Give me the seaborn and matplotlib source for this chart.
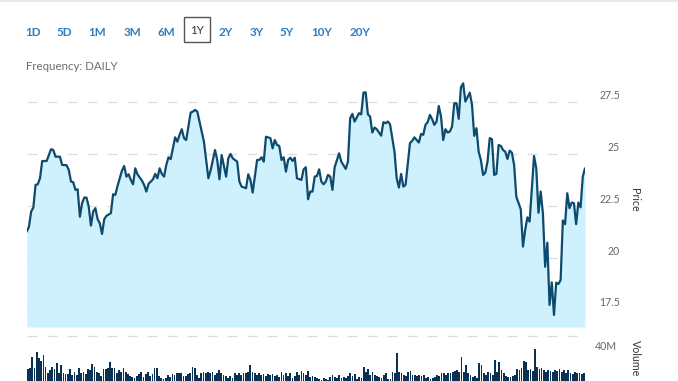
import matplotlib
matplotlib.use("Agg")
import matplotlib.pyplot as plt
import matplotlib.transforms as mtransforms
from matplotlib.patches import Rectangle
from matplotlib.lines import Line2D
import seaborn as sns

# trading day number (0 = first day of the 1Y window) and closing price
price_day = [0, 1, 2, 3, 4, 5, 6, 7, 9, 11, 12, 13, 15, 16, 18, 19, 20, 21, 22, 23,
             24, 25, 26, 27, 28, 29, 30, 31, 32, 33, 34, 35, 36, 38, 39, 40, 41, 43, 44, 45,
             46, 47, 48, 49, 50, 52, 53, 54, 55, 56, 57, 58, 59, 60, 61, 62, 63, 64, 65, 67,
             68, 69, 70, 71, 72, 74, 75, 76, 77, 78, 80, 82, 83, 85, 86, 87, 88, 89, 90, 91,
             92, 93, 95, 96, 97, 99, 100, 101, 102, 104, 105, 106, 107, 108, 110, 111, 112, 113, 114, 115,
             116, 117, 118, 119, 120, 121, 122, 124, 125, 126, 127, 128, 129, 130, 131, 132, 133, 134, 135, 136,
             137, 138, 139, 141, 142, 144, 145, 146, 147, 148, 150, 151, 152, 153, 154, 155, 156, 157, 158, 160,
             161, 162, 163, 164, 166, 167, 168, 169, 170, 171, 173, 174, 175, 176, 177, 178, 179, 180, 181, 182,
             183, 184, 185, 186, 187, 188, 189, 190, 191, 192, 193, 194, 195, 196, 197, 198, 200, 201, 202, 203,
             204, 205, 206, 207, 208, 209, 210, 211, 212, 213, 214, 215, 216, 217, 218, 219, 220, 221, 223, 224,
             225, 226, 227, 229, 230, 231, 232, 233, 234, 235, 236, 237, 238, 239, 240, 241, 242, 243, 244, 245,
             246, 247, 248, 249, 250, 251, 252]
price = [21.27, 21.50, 22.23, 22.43, 23.52, 23.55, 23.84, 24.67, 24.67, 25.24, 25.20, 24.88, 24.88, 24.48, 24.47, 24.24, 23.68, 23.65, 23.28, 23.31,
         21.99, 22.64, 22.91, 22.91, 22.47, 21.56, 22.23, 22.40, 21.87, 21.67, 21.16, 21.87, 22.03, 22.16, 23.07, 23.04, 23.47, 24.21, 24.43, 23.92,
         24.03, 23.76, 23.55, 24.32, 24.03, 23.73, 23.52, 23.20, 23.57, 23.68, 23.79, 24.05, 23.84, 24.32, 24.05, 23.92, 24.48, 24.85, 24.76, 25.81,
         25.60, 25.93, 26.20, 25.77, 25.68, 27.00, 27.05, 27.13, 27.05, 26.57, 25.60, 23.84, 24.21, 25.20, 24.72, 23.79, 24.96, 24.43, 23.92, 24.80,
         25.01, 24.80, 24.64, 23.68, 23.44, 23.36, 24.03, 23.76, 23.15, 24.72, 24.72, 24.85, 24.64, 25.84, 25.77, 25.28, 25.68, 25.44, 25.40, 24.72,
         24.85, 24.16, 24.72, 24.83, 24.67, 24.83, 23.84, 23.76, 24.27, 24.37, 22.83, 23.20, 23.20, 23.92, 23.95, 24.27, 23.68, 23.55, 23.68, 24.00,
         23.92, 23.28, 24.37, 25.04, 24.64, 24.29, 24.64, 26.73, 26.94, 26.57, 26.97, 26.92, 27.96, 27.98, 26.92, 26.81, 26.04, 26.28, 26.20, 25.89,
         26.54, 26.49, 26.57, 26.44, 25.12, 23.84, 23.39, 24.05, 23.44, 23.52, 25.53, 25.64, 25.81, 25.68, 25.56, 25.97, 25.93, 26.41, 26.54, 26.89,
         26.68, 26.41, 26.57, 27.32, 26.81, 25.68, 26.20, 26.04, 26.09, 26.33, 27.45, 27.45, 26.70, 28.22, 28.41, 27.53, 27.96, 27.37, 25.88, 26.25,
         25.12, 24.72, 24.00, 24.11, 24.64, 25.77, 25.72, 24.00, 24.05, 25.44, 25.40, 25.20, 25.12, 24.77, 25.17, 25.07, 24.48, 22.95, 22.35, 20.55,
         21.35, 21.96, 21.75, 24.91, 24.32, 22.18, 23.20, 22.15, 19.58, 20.74, 17.74, 18.83, 17.26, 18.81, 18.75, 18.94, 21.81, 21.63, 23.12, 22.40,
         22.67, 22.64, 21.63, 22.67, 22.44, 23.92, 24.32]

# daily volume, millions of shares
volume = [23.4, 24.0, 29.7, 24.0, 31.9, 28.9, 27.7, 30.5, 24.7, 21.4, 23.0, 24.7, 23.4, 26.4, 21.4, 25.5, 21.4, 21.0, 21.0, 23.4,
          20.5, 22.2, 20.5, 23.9, 21.4, 22.2, 21.0, 23.4, 23.0, 25.9, 24.7, 22.2, 21.7, 20.0, 23.4, 23.4, 23.9, 27.2, 23.9, 24.2,
          21.7, 23.0, 22.2, 24.2, 22.2, 20.9, 20.0, 19.7, 18.9, 20.0, 20.9, 22.2, 19.7, 20.9, 22.2, 20.0, 20.9, 23.9, 23.9, 20.0,
          18.9, 18.4, 18.9, 20.5, 19.7, 21.0, 20.5, 21.7, 21.7, 21.7, 20.0, 20.0, 21.0, 21.4, 24.7, 23.9, 20.5, 18.9, 21.4, 22.2,
          21.7, 22.2, 21.7, 22.2, 20.5, 21.4, 23.0, 21.7, 20.5, 20.0, 18.9, 20.0, 18.9, 21.4, 20.5, 21.4, 20.5, 21.4, 21.7, 22.2,
          25.5, 22.2, 21.7, 20.5, 21.4, 20.5, 20.9, 20.0, 20.9, 20.5, 20.9, 20.0, 20.5, 19.7, 22.2, 20.5, 21.7, 20.0, 21.4, 18.9,
          20.0, 22.2, 20.5, 22.5, 21.4, 20.5, 22.5, 19.7, 20.0, 19.4, 18.9, 18.4, 18.0, 18.9, 18.4, 18.0, 19.7, 20.5, 19.4, 18.9,
          20.5, 18.9, 19.7, 18.9, 20.0, 21.7, 20.0, 20.9, 18.4, 19.7, 18.9, 24.7, 22.2, 23.4, 20.5, 22.2, 20.5, 20.0, 19.4, 18.9,
          20.5, 21.7, 18.4, 18.4, 22.2, 21.4, 31.4, 22.2, 21.7, 20.5, 20.0, 22.2, 22.5, 20.5, 20.5, 20.0, 20.5, 20.0, 20.5, 18.9,
          19.4, 18.4, 18.9, 19.4, 20.5, 20.0, 21.4, 21.7, 20.5, 21.4, 21.4, 22.2, 22.5, 23.0, 22.2, 29.4, 22.2, 25.5, 21.7, 20.5,
          19.7, 20.0, 18.9, 26.4, 25.5, 21.4, 20.5, 22.2, 21.4, 20.5, 28.0, 22.2, 27.2, 23.0, 21.4, 20.0, 19.7, 19.4, 20.0, 20.5,
          23.4, 23.0, 23.9, 27.7, 27.2, 23.0, 23.4, 22.7, 33.5, 24.4, 23.4, 23.9, 23.0, 22.2, 23.0, 22.7, 22.2, 23.0, 22.5, 23.4,
          22.2, 23.0, 21.7, 23.0, 21.4, 21.0, 22.2, 21.7, 21.4, 21.0, 21.7]

price_ticks = [17.5, 20, 22.5, 25, 27.5]
ranges = ["1D", "5D", "1M", "3M", "6M", "1Y", "2Y", "3Y", "5Y", "10Y", "20Y"]
selected = "1Y"

LINE = "#0d4a6d"
FILL = "#cff1fd"
BAR = "#0b3152"
GRID = "#dddddd"
BLUE = "#2d7cc0"

sns.set_style("white")
plt.rcParams["font.family"] = ["Lato", "DejaVu Sans"]

W, H = 678, 381
fig = plt.figure(figsize=(W / 100, H / 100), dpi=100)


def fx(px):
    return px / W


def fy(py):
    return 1 - py / H


left, right = 26.7, 585
ax = fig.add_axes([fx(left), fy(327), fx(right) - fx(left), fy(80) - fy(327)])
axv = fig.add_axes([fx(left), 0, fx(right) - fx(left), fy(336)])

# price pane
pmin = 16.68
ax.fill_between(price_day, price, pmin, color=FILL, lw=0, zorder=1)
sns.lineplot(x=price_day, y=price, ax=ax, color=LINE, linewidth=1.6,
             estimator=None, sort=False, zorder=3)
ax.set_xlim(0, 252)
ax.set_ylim(pmin, 28.57)
ax.set_yticks(price_ticks)
ax.yaxis.grid(True, linestyle=(0, (8, 8)), color=GRID, linewidth=0.9, zorder=0)
ax.set_axisbelow(True)
ax.tick_params(left=False, bottom=False, labelleft=False, labelbottom=False)
ax.set_xlabel("")
ax.set_ylabel("")
for s in ax.spines.values():
    s.set_visible(False)

lab_x = (620 - left) / (right - left)
up = mtransforms.offset_copy(ax.get_yaxis_transform(), fig=fig, y=7, units="dots")
for v in price_ticks:
    ax.text(lab_x, v, f"{v:g}", transform=up, ha="right", va="center",
            fontsize=7.6, color="#666666", clip_on=False)

# volume pane
sns.barplot(x=list(range(len(volume))), y=volume, ax=axv, color=BAR,
            saturation=1, errorbar=None, width=0.78, linewidth=0)
axv.set_xlim(-0.5, len(volume) - 0.5)
axv.set_ylim(17.5, 40)
axv.axhline(40, linestyle=(0, (8, 8)), color=GRID, linewidth=0.9, clip_on=False)
axv.tick_params(left=False, bottom=False, labelleft=False, labelbottom=False)
axv.set_xlabel("")
axv.set_ylabel("")
for s in axv.spines.values():
    s.set_visible(False)
down = mtransforms.offset_copy(axv.get_yaxis_transform(), fig=fig, y=-11, units="dots")
axv.text((617 - left) / (right - left), 40, "40M", transform=down, ha="right",
         va="center", fontsize=7.6, color="#666666", clip_on=False)

fig.text(fx(635), fy(200), "Price", rotation=270, ha="center", va="center",
         fontsize=7.7, color="#333333")
fig.text(fx(635), fy(340), "Volume", rotation=270, ha="center", va="top",
         fontsize=7.7, color="#333333")

# range buttons and header
centers = [33, 64.5, 97.5, 132.5, 166.5, 197, 226, 257, 287, 322, 359.5]
for lab, cx in zip(ranges, centers):
    if lab == selected:
        fig.add_artist(Rectangle((fx(184), fy(42)), fx(210) - fx(184), fy(17) - fy(42),
                                 transform=fig.transFigure, facecolor="white",
                                 edgecolor="#555555", lw=1.0))
        fig.text(fx(cx), fy(30.5), lab, ha="center", va="center", fontsize=8.4,
                 color="#333333")
    else:
        fig.text(fx(cx), fy(32), lab, ha="center", va="center", fontsize=8.4,
                 color=BLUE, fontweight="bold")

fig.text(fx(26), fy(67), "Frequency: DAILY", ha="left", va="center", fontsize=8.3,
         color="#6d6d6d")
fig.add_artist(Line2D([0, 1], [fy(0.6), fy(0.6)], color="#e4e4e4", lw=1.2,
                      transform=fig.transFigure))

fig.savefig("out.png", dpi=100)
